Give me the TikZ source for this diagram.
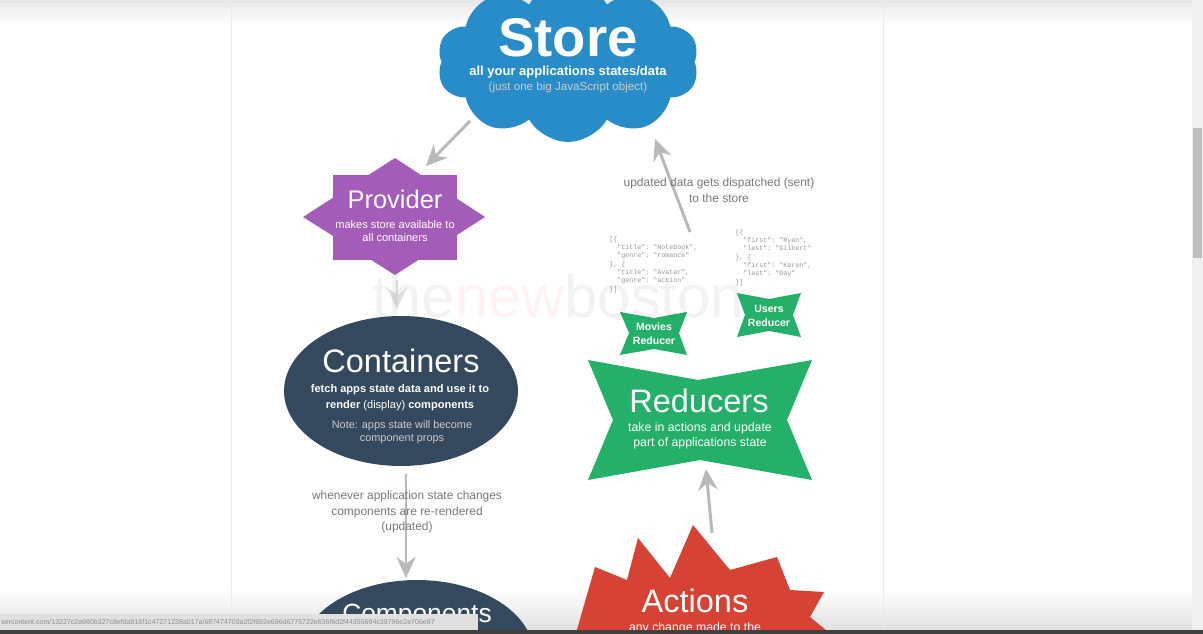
\documentclass[tikz,border=0pt]{standalone}
\usepackage{fontspec}
\setmainfont{Liberation Sans}
\setmonofont{Liberation Mono}
\definecolor{rxblue}{RGB}{40,140,200}
\definecolor{rxpurple}{RGB}{163,93,184}
\definecolor{rxnavy}{RGB}{52,72,94}
\definecolor{rxgreen}{RGB}{36,176,104}
\definecolor{rxred}{RGB}{214,66,52}
\definecolor{rxarrow}{RGB}{185,185,185}
\definecolor{rxlabel}{RGB}{120,120,120}
\definecolor{rxjson}{RGB}{150,150,150}
\usetikzlibrary{arrows.meta,positioning,shapes.symbols,shapes.geometric}

\begin{document}
\begin{tikzpicture}[
  x=0.02cm, y=-0.02cm,
  every node/.style={inner sep=0pt, text=white},
  bigttl/.style={font=\fontsize{31}{31}\selectfont\bfseries},
  midttl/.style={font=\fontsize{18.5}{18.5}\selectfont},
  subtxt/.style={font=\fontsize{6.6}{9}\selectfont\bfseries, align=center},
  notetxt/.style={font=\fontsize{6.2}{7.4}\selectfont, align=center, text=white!80!black},
  minitxt/.style={font=\fontsize{6}{8}\selectfont\bfseries, align=center},
  greytxt/.style={font=\fontsize{6.8}{9}\selectfont, align=center, text=rxlabel},
  jsontxt/.style={font=\fontsize{3.8}{4.75}\selectfont\ttfamily, align=left,
                  anchor=north west, text=rxjson},
  arr/.style={-{Stealth[length=12pt,width=11pt,inset=4pt]}, line width=1.7pt, draw=rxarrow},
]
  \clip (0,0) rectangle (1203,634);
  \fill[white] (0,0) rectangle (1203,634);

  % page frame and screen shading
  \shade[top color=black!9, bottom color=white] (0,0) rectangle (1192,24);
  \shade[top color=white, bottom color=black!12] (0,590) rectangle (1192,630);
  \draw[black!8] (231,0) -- (231,630);
  \draw[black!8] (883,0) -- (883,630);

  % Store
  \node[cloud, cloud puffs=10, cloud puff arc=120, aspect=1.6, fill=rxblue,
        minimum width=5.24cm, minimum height=3.2cm] (store) at (568,62) {};
  \node[bigttl] (storettl) at (568,38) {Store};
  \node[subtxt, font=\fontsize{7.4}{9}\selectfont\bfseries] (storesub) at (568,72)
    {all your applications states/data};
  \node[notetxt, font=\fontsize{6.6}{9}\selectfont] (storenote) at (568,88)
    {(just one big JavaScript object)};

  % Provider
  \fill[rxpurple] (333,175) rectangle (457,260);
  \fill[rxpurple] (395,158) -- (485,217) -- (395,275) -- (303,217) -- cycle;
  \node[font=\fontsize{14.5}{14.5}\selectfont] (provttl) at (395,199) {Provider};
  \node[subtxt, font=\fontsize{6.3}{7.6}\selectfont] (provsub) at (395,231)
    {makes store available to\\all containers};

  % Containers
  \node[ellipse, fill=rxnavy, minimum width=4.68cm, minimum height=3.0cm] (cont) at (401,391) {};
  \node[midttl] (contttl) at (401,361) {Containers};
  \node[subtxt, font=\fontsize{6.3}{9}\selectfont\bfseries] (contsub) at (400,398)
    {fetch apps state data and use it to\\render {\mdseries(display)} components};
  \node[notetxt] (contnote) at (402,432) {Note: apps state will become\\component props};

  % Components
  \node[ellipse, fill=rxnavy, minimum width=4.68cm, minimum height=3.0cm] (comp) at (417,655) {};
  \node[midttl, font=\fontsize{15}{15}\selectfont] (compttl) at (417,616) {Components};

  % Reducers
  \fill[rxgreen] (588,360) -- (698,380) -- (812,360) -- (787,420) -- (812,480)
    -- (700,460) -- (588,480) -- (613,420) -- cycle;
  \node[midttl] (redttl) at (699,401) {Reducers};
  \node[subtxt, font=\fontsize{7}{8.6}\selectfont] (redsub) at (700,436)
    {take in actions and update\\part of applications state};

  % small reducers
  \fill[rxgreen] (620,312) -- (654,318) -- (687,312) -- (679,333) -- (687,355)
    -- (654,349) -- (620,355) -- (629,333) -- cycle;
  \node[minitxt] (movred) at (654,334) {Movies\\Reducer};
  \fill[rxgreen] (737,293) -- (769,299) -- (801,293) -- (793,315) -- (801,337)
    -- (769,331) -- (737,337) -- (745,315) -- cycle;
  \node[minitxt] (usrred) at (769,316) {Users\\Reducer};

  \node[jsontxt] (movjson) at (609,236)
    {[\{\\~~"title": "Notebook",\\~~"genre": "romance"\\\}, \{\\~~"title": "Avatar",\\~~"genre": "action"\\\}]};
  \node[jsontxt] (usrjson) at (735,229)
    {[\{\\~~"first": "Ryan",\\~~"last": "Gilbert"\\\}, \{\\~~"first": "Karen",\\~~"last": "Day"\\\}]};

  % Actions
  \fill[rxred] (574,640) -- (595,567) -- (627,580) -- (638,538) -- (670,578) -- (693,525)
    -- (730,570) -- (777,557) -- (790,590) -- (824,592) -- (810,617) -- (838,640) -- cycle;
  \node[midttl] (actttl) at (695,601) {Actions};
  \node[subtxt, font=\fontsize{7}{9}\selectfont\mdseries] (actsub) at (695,628) {any change made to the};

  % connectors
  \coordinate (storeout) at (470,121);
  \coordinate (provin) at (426,166);
  \coordinate (provout) at (397,280);
  \coordinate (contin) at (397,309);
  \coordinate (contout) at (406,474);
  \coordinate (compin) at (406,578);
  \coordinate (actout) at (712,533);
  \coordinate (redin) at (706,469);
  \coordinate (redout) at (690,232);
  \coordinate (storein) at (655,139);

  \draw[arr] (storeout) -- (provin);
  \draw[arr, draw=rxarrow!45] (provout) -- (contin);
  \draw[arr] (contout) -- (compin);
  \draw[arr] (actout) -- (redin);
  \draw[arr] (redout) -- (storein);

  \node[greytxt] (rerender) at (407,512)
    {whenever application state changes\\components are re-rendered\\(updated)};
  \node[greytxt] (dispatch) at (719,190) {updated data gets dispatched (sent)\\to the store};

  % watermark
  \node[font=\fontsize{34}{34}\selectfont, opacity=0.05, text=black] (wmark) at (558,296)
    {the\textcolor{red}{new}boston};

  % scrollbar and status bar
  \fill[black!6] (1192,0) rectangle (1203,634);
  \fill[black!25] (1193,128) rectangle (1202,258);
  \fill[black!12] (0,614) rectangle (478,630);
  \node[font=\fontsize{4}{4}\selectfont, text=black!45, anchor=west] (url) at (1,622)
    {sercontent.com/13227c2a980b327c8efda916f1c47271238a017a/687474703a2f2f692e696d6775722e636f6d2f44355694c39796e2e706e67};
  \fill[black!75] (0,630) rectangle (1203,634);
\end{tikzpicture}
\end{document}
